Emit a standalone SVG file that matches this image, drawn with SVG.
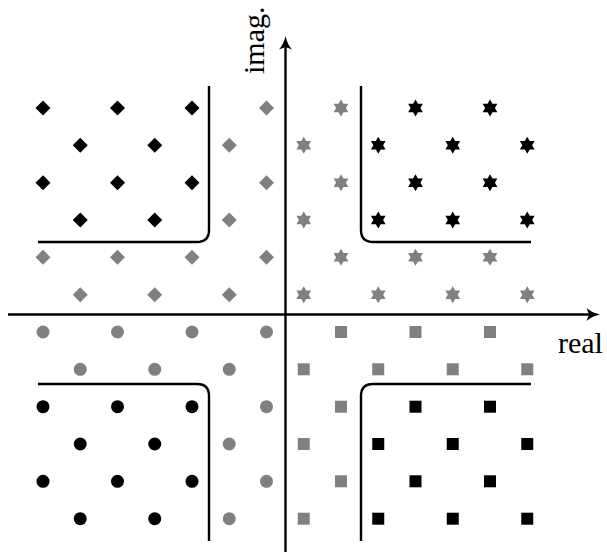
<svg xmlns="http://www.w3.org/2000/svg" xmlns:xlink="http://www.w3.org/1999/xlink" width="607" height="556" viewBox="0 0 607 556">
<style>
.ax{stroke:#000;stroke-width:2.4;fill:none}
.bd{fill:none;stroke:#000;stroke-width:2.4}
.k{fill:#000}
.g{fill:#808080}
.lbl{font-family:"Liberation Serif","Times New Roman",serif;font-size:30px;fill:#000}
</style>
<defs>
<path id="d" d="M0,-7.5 L7.5,0 L0,7.5 L-7.5,0Z"/>
<polygon id="s" points="0,-8.5 2.45,-4.24 7.36,-4.25 4.9,0 7.36,4.25 2.45,4.24 0,8.5 -2.45,4.24 -7.36,4.25 -4.9,0 -7.36,-4.25 -2.45,-4.24"/>
<circle id="c" r="6.5"/>
<rect id="q" x="-6" y="-6" width="12" height="12"/>
</defs>
<g id="connectors">
<line class="ax" x1="8" y1="314.5" x2="592" y2="314.5"/>
<path d="M600,314.5 C594,313.2 590,311 586.5,308 L589,314.5 L586.5,321 C590,318 594,315.8 600,314.5Z" fill="#000"/>
<line class="ax" x1="285.5" y1="552" x2="285.5" y2="45"/>
<path d="M285.5,36 C284.2,42 282,46 279,49.5 L285.5,47 L292,49.5 C289,46 286.8,42 285.5,36Z" fill="#000"/>
<path class="bd" d="M209,86 V230 Q209,242 197,242 H38"/>
<path class="bd" d="M361,86 V230 Q361,242 373,242 H531"/>
<path class="bd" d="M38,384 H197 Q209,384 209,396 V541"/>
<path class="bd" d="M531,384 H373 Q361,384 361,396 V541"/>
</g>
<g id="upper-left">
<use href="#d" class="k" x="43" y="108"/><use href="#d" class="k" x="117.5" y="108"/><use href="#d" class="k" x="192" y="108"/><use href="#d" class="g" x="266.5" y="108"/>
<use href="#d" class="k" x="80.25" y="145.3"/><use href="#d" class="k" x="154.75" y="145.3"/><use href="#d" class="g" x="229.25" y="145.3"/>
<use href="#d" class="k" x="43" y="182.7"/><use href="#d" class="k" x="117.5" y="182.7"/><use href="#d" class="k" x="192" y="182.7"/><use href="#d" class="g" x="266.5" y="182.7"/>
<use href="#d" class="k" x="80.25" y="220"/><use href="#d" class="k" x="154.75" y="220"/><use href="#d" class="g" x="229.25" y="220"/>
<use href="#d" class="g" x="43" y="257.3"/><use href="#d" class="g" x="117.5" y="257.3"/><use href="#d" class="g" x="192" y="257.3"/><use href="#d" class="g" x="266.5" y="257.3"/>
<use href="#d" class="g" x="80.25" y="294.7"/><use href="#d" class="g" x="154.75" y="294.7"/><use href="#d" class="g" x="229.25" y="294.7"/>
</g>
<g id="upper-right">
<use href="#s" class="g" x="341" y="108"/><use href="#s" class="k" x="415.5" y="108"/><use href="#s" class="k" x="490" y="108"/>
<use href="#s" class="g" x="303.75" y="145.3"/><use href="#s" class="k" x="378.25" y="145.3"/><use href="#s" class="k" x="452.75" y="145.3"/><use href="#s" class="k" x="527.25" y="145.3"/>
<use href="#s" class="g" x="341" y="182.7"/><use href="#s" class="k" x="415.5" y="182.7"/><use href="#s" class="k" x="490" y="182.7"/>
<use href="#s" class="g" x="303.75" y="220"/><use href="#s" class="k" x="378.25" y="220"/><use href="#s" class="k" x="452.75" y="220"/><use href="#s" class="k" x="527.25" y="220"/>
<use href="#s" class="g" x="341" y="257.3"/><use href="#s" class="g" x="415.5" y="257.3"/><use href="#s" class="g" x="490" y="257.3"/>
<use href="#s" class="g" x="303.75" y="294.7"/><use href="#s" class="g" x="378.25" y="294.7"/><use href="#s" class="g" x="452.75" y="294.7"/><use href="#s" class="g" x="527.25" y="294.7"/>
</g>
<g id="lower-left">
<use href="#c" class="g" x="43" y="332"/><use href="#c" class="g" x="117.5" y="332"/><use href="#c" class="g" x="192" y="332"/><use href="#c" class="g" x="266.5" y="332"/>
<use href="#c" class="g" x="80.25" y="369.3"/><use href="#c" class="g" x="154.75" y="369.3"/><use href="#c" class="g" x="229.25" y="369.3"/>
<use href="#c" class="k" x="43" y="406.7"/><use href="#c" class="k" x="117.5" y="406.7"/><use href="#c" class="k" x="192" y="406.7"/><use href="#c" class="g" x="266.5" y="406.7"/>
<use href="#c" class="k" x="80.25" y="444"/><use href="#c" class="k" x="154.75" y="444"/><use href="#c" class="g" x="229.25" y="444"/>
<use href="#c" class="k" x="43" y="481.3"/><use href="#c" class="k" x="117.5" y="481.3"/><use href="#c" class="k" x="192" y="481.3"/><use href="#c" class="g" x="266.5" y="481.3"/>
<use href="#c" class="k" x="80.25" y="518.7"/><use href="#c" class="k" x="154.75" y="518.7"/><use href="#c" class="g" x="229.25" y="518.7"/>
</g>
<g id="lower-right">
<use href="#q" class="g" x="341" y="332"/><use href="#q" class="g" x="415.5" y="332"/><use href="#q" class="g" x="490" y="332"/>
<use href="#q" class="g" x="303.75" y="369.3"/><use href="#q" class="g" x="378.25" y="369.3"/><use href="#q" class="g" x="452.75" y="369.3"/><use href="#q" class="g" x="527.25" y="369.3"/>
<use href="#q" class="g" x="341" y="406.7"/><use href="#q" class="k" x="415.5" y="406.7"/><use href="#q" class="k" x="490" y="406.7"/>
<use href="#q" class="g" x="303.75" y="444"/><use href="#q" class="k" x="378.25" y="444"/><use href="#q" class="k" x="452.75" y="444"/><use href="#q" class="k" x="527.25" y="444"/>
<use href="#q" class="g" x="341" y="481.3"/><use href="#q" class="k" x="415.5" y="481.3"/><use href="#q" class="k" x="490" y="481.3"/>
<use href="#q" class="g" x="303.75" y="518.7"/><use href="#q" class="k" x="378.25" y="518.7"/><use href="#q" class="k" x="452.75" y="518.7"/><use href="#q" class="k" x="527.25" y="518.7"/>
</g>
<g id="labels">
<text class="lbl" transform="translate(264,74) rotate(-90)">imag.</text>
<text class="lbl" x="558" y="353">real</text>
</g>
</svg>
